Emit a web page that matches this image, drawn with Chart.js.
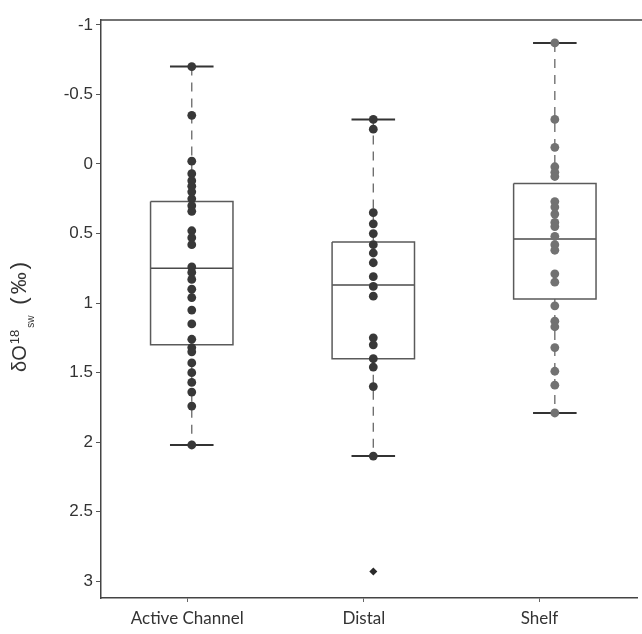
<!DOCTYPE html>
<html>
<head>
<meta charset="utf-8">
<script src="https://cdn.jsdelivr.net/npm/chart.js@4"></script>
<style>
  html, body { margin: 0; padding: 0; background: #fff; }
  #wrap { width: 642px; height: 634px; }
</style>
</head>
<body>
<div id="wrap"><canvas id="isoChart" width="642" height="634"></canvas></div>
<script>
// groups and where their labels sit on the x scale
const categories = ['Active Channel', 'Distal', 'Shelf'];
const groupX = [1, 2, 3];
const xTickAt = [0.975, 1.948, 2.915];
const yTicks = [-1, -0.5, 0, 0.5, 1, 1.5, 2, 2.5, 3];

// individual samples per group
const activeChannel = [-0.70, -0.35, -0.02, 0.07, 0.12, 0.16, 0.20, 0.25, 0.30, 0.34, 0.48, 0.53, 0.58,
    0.74, 0.78, 0.83, 0.90, 0.96, 1.05, 1.15, 1.26, 1.32, 1.35, 1.43, 1.50, 1.57, 1.64, 1.74, 2.02];
const distal = [-0.32, -0.25, 0.35, 0.43, 0.50, 0.58, 0.64, 0.71, 0.81, 0.88, 0.95, 1.25, 1.30,
    1.40, 1.46, 1.60, 2.10];
const shelf = [-0.87, -0.32, -0.12, 0.02, 0.06, 0.09, 0.27, 0.31, 0.36, 0.42, 0.45, 0.52, 0.58,
    0.62, 0.79, 0.85, 1.02, 1.13, 1.17, 1.32, 1.49, 1.59, 1.79];
const samples = [activeChannel, distal, shelf];

// box statistics
const q1 = [0.27, 0.56, 0.14];
const median = [0.75, 0.87, 0.54];
const q3 = [1.30, 1.40, 0.97];
const whiskerLow = [-0.70, -0.32, -0.87];
const whiskerHigh = [2.02, 2.10, 1.79];
const outliers = [[], [2.93], []];

const BOX_HALF = 0.227;
const CAP_HALF = 0.12;
const pointColors = ['#383838', '#383838', '#727272'];

function segment(data, color, width, dash) {
    return {
        data, showLine: true, borderColor: color, borderWidth: width,
        borderDash: dash || [], pointRadius: 0, fill: false, order: 2
    };
}

const datasets = [];
groupX.forEach((cx, i) => {
    // raw points on top
    datasets.push({
        data: samples[i].map(v => ({ x: cx, y: v })),
        backgroundColor: pointColors[i], borderColor: pointColors[i],
        pointRadius: 4.4, pointBorderWidth: 0, order: 0
    });
    if (outliers[i].length) {
        datasets.push({
            data: outliers[i].map(v => ({ x: cx, y: v })),
            pointStyle: 'rectRot', backgroundColor: '#2a2a2a', borderColor: '#2a2a2a',
            pointRadius: 4, pointBorderWidth: 0, order: 0
        });
    }
    // box and median
    datasets.push(segment([
        { x: cx - BOX_HALF, y: q1[i] }, { x: cx + BOX_HALF, y: q1[i] },
        { x: cx + BOX_HALF, y: q3[i] }, { x: cx - BOX_HALF, y: q3[i] },
        { x: cx - BOX_HALF, y: q1[i] }
    ], '#5a5a5a', 1.5));
    datasets.push(segment([{ x: cx - BOX_HALF, y: median[i] }, { x: cx + BOX_HALF, y: median[i] }], '#4a4a4a', 1.5));
    // dashed whiskers
    datasets.push(segment([{ x: cx, y: whiskerLow[i] }, { x: cx, y: q1[i] }], '#666', 1.3, [9, 7]));
    datasets.push(segment([{ x: cx, y: q3[i] }, { x: cx, y: whiskerHigh[i] }], '#666', 1.3, [9, 7]));
    // caps
    datasets.push(segment([{ x: cx - CAP_HALF, y: whiskerLow[i] }, { x: cx + CAP_HALF, y: whiskerLow[i] }], '#333', 2));
    datasets.push(segment([{ x: cx - CAP_HALF, y: whiskerHigh[i] }, { x: cx + CAP_HALF, y: whiskerHigh[i] }], '#333', 2));
});

// top frame line and the y title with its super/subscripts
const framePlugin = {
    id: 'frame',
    afterDraw(chart) {
        const { ctx, chartArea } = chart;
        ctx.save();
        ctx.strokeStyle = '#444';
        ctx.lineWidth = 1.5;
        ctx.beginPath();
        ctx.moveTo(chartArea.left, chartArea.top);
        ctx.lineTo(chart.width, chartArea.top);
        ctx.stroke();

        ctx.translate(26, 372);
        ctx.rotate(-Math.PI / 2);
        ctx.fillStyle = '#333';
        ctx.textBaseline = 'alphabetic';
        ctx.textAlign = 'left';
        const family = '"Liberation Sans", Arial, sans-serif';
        let u = 0;
        ctx.font = '20px ' + family;
        ctx.fillText('δO', u, 0);
        u += ctx.measureText('δO').width + 1;
        ctx.font = '13px ' + family;
        ctx.fillText('18', u, -7);
        u += ctx.measureText('18').width + 2;
        ctx.font = '10px ' + family;
        ctx.fillText('sw', u, 8);
        u += ctx.measureText('sw').width + 11;
        ctx.font = '22px ' + family;
        ctx.fillText('(', u, 0);
        u += ctx.measureText('(').width + 3;
        ctx.fillText('‰', u, 0);
        u += ctx.measureText('‰').width + 3;
        ctx.fillText(')', u, 0);
        ctx.restore();
    }
};

new Chart(document.getElementById('isoChart'), {
    type: 'scatter',
    data: { datasets },
    options: {
        responsive: false,
        animation: false,
        devicePixelRatio: 1,
        layout: { padding: { top: 20, right: 0, left: 0, bottom: 0 } },
        plugins: { legend: { display: false }, tooltip: { enabled: false } },
        scales: {
            x: {
                type: 'linear',
                min: 0.5,
                max: 3.456,
                afterBuildTicks: scale => { scale.ticks = xTickAt.map(v => ({ value: v })); },
                afterFit: scale => { scale.height = 36; },
                grid: { drawOnChartArea: false, drawTicks: true, tickLength: 4, color: '#666' },
                border: { color: '#444', width: 1.5 },
                ticks: {
                    autoSkip: false,
                    maxRotation: 0,
                    padding: 6,
                    color: '#333',
                    font: { family: 'Lato, "Open Sans", sans-serif', size: 17 },
                    callback: (value, index) => categories[index]
                }
            },
            y: {
                reverse: true,
                min: -1.035,
                max: 3.12,
                afterBuildTicks: scale => { scale.ticks = yTicks.map(v => ({ value: v })); },
                afterFit: scale => { scale.width = 101; },
                grid: { drawOnChartArea: false, drawTicks: true, tickLength: 5, color: '#555' },
                border: { color: '#444', width: 1.5 },
                ticks: {
                    padding: 3,
                    color: '#333',
                    font: { family: '"Liberation Sans", Arial, sans-serif', size: 17 },
                    callback: value => String(value)
                }
            }
        }
    },
    plugins: [framePlugin]
});
</script>
</body>
</html>
